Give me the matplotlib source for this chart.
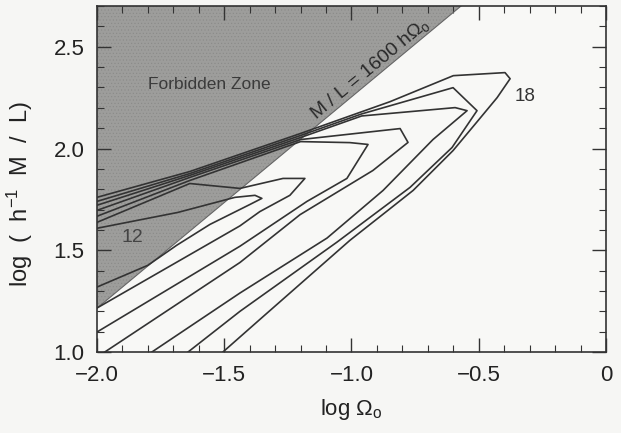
import numpy as np
import matplotlib.pyplot as plt
from matplotlib.ticker import MultipleLocator

plt.rcParams['font.family'] = ['Liberation Sans', 'DejaVu Sans']
plt.rcParams['mathtext.fontset'] = 'custom'
plt.rcParams['mathtext.rm'] = 'Liberation Sans'
plt.rcParams['mathtext.it'] = 'Liberation Sans'
plt.rcParams['hatch.linewidth'] = 0.4

# forbidden zone boundary, M/L = 1600 h Omega
edge_x = [-2.0, -0.57]
edge_y = [1.215, 2.70]

# contour levels (outermost 18 -> innermost 12), traced as polylines
c18_x = [-2.0, -1.635, -1.20, -0.849, -0.60, -0.397, -0.377, -0.428, -0.503, -0.601, -0.758, -0.857, -1.006, -1.34, -1.505]
c18_y = [1.760, 1.887, 2.074, 2.230, 2.358, 2.373, 2.343, 2.250, 2.137, 1.990, 1.794, 1.696, 1.549, 1.182, 1.0]
c17_x = [-2.0, -1.635, -1.20, -0.96, -0.601, -0.507, -0.605, -0.770, -1.057, -1.438, -1.642]
c17_y = [1.740, 1.877, 2.064, 2.170, 2.299, 2.186, 2.005, 1.809, 1.540, 1.200, 1.0]
c16_x = [-2.0, -1.635, -1.20, -0.96, -0.593, -0.546, -0.680, -0.876, -1.096, -1.438, -1.784]
c16_y = [1.721, 1.868, 2.054, 2.160, 2.201, 2.186, 2.044, 1.794, 1.560, 1.290, 1.0]
c15_x = [-2.0, -1.635, -1.20, -0.809, -0.778, -0.916, -1.202, -1.438, -1.969]
c15_y = [1.696, 1.858, 2.044, 2.098, 2.030, 1.892, 1.675, 1.440, 1.0]
c14_x = [-2.0, -1.635, -1.20, -1.006, -0.935, -1.018, -1.175, -1.438, -2.0]
c14_y = [1.667, 1.843, 2.034, 2.029, 2.020, 1.853, 1.740, 1.520, 1.098]
c13_x = [-2.0, -1.635, -1.438, -1.269, -1.183, -1.242, -1.360, -1.438, -2.0]
c13_y = [1.637, 1.828, 1.804, 1.853, 1.853, 1.770, 1.690, 1.620, 1.216]
c12_x = [-2.0, -1.682, -1.458, -1.379, -1.352, -1.399, -1.556, -1.686, -1.800, -2.0]
c12_y = [1.608, 1.686, 1.760, 1.770, 1.755, 1.725, 1.627, 1.525, 1.426, 1.319]

contours = [(c18_x, c18_y), (c17_x, c17_y), (c16_x, c16_y), (c15_x, c15_y),
            (c14_x, c14_y), (c13_x, c13_y), (c12_x, c12_y)]

x_ticks = [-2.0, -1.5, -1.0, -0.5, 0.0]
x_labels = ['\u22122.0', '\u22121.5', '\u22121.0', '\u22120.5', '0']
y_ticks = [1.0, 1.5, 2.0, 2.5]
y_labels = ['1.0', '1.5', '2.0', '2.5']

fig = plt.figure(figsize=(6.21, 4.33), dpi=100, facecolor='#f6f6f4')
ax = fig.add_axes([0.156, 0.187, 0.82, 0.799])
ax.set_facecolor('#f8f8f6')

ax.set_xlim(-2.0, 0.0)
ax.set_ylim(1.0, 2.7)

# shaded forbidden zone
ax.fill_between([edge_x[0], edge_x[1], 0.0], [edge_y[0], edge_y[1], 2.7], [2.7, 2.7, 2.7],
                facecolor='#9d9d9b', edgecolor='#8a8a88', hatch='.....', lw=0, zorder=1)
ax.plot(edge_x, edge_y, color='#666666', lw=0.8, zorder=2)

for cx, cy in contours:
    ax.plot(cx, cy, color='#333333', lw=1.2, zorder=3)

ax.text(-1.56, 2.314, 'Forbidden Zone', fontsize=12.5, color='#3a3a3a', ha='center', va='center', zorder=4)
ax.text(-0.904, 2.352, r'M / L = 1600 h$\Omega_\mathrm{o}$', fontsize=14, color='#2a2a2a',
        rotation=39.6, rotation_mode='anchor', ha='center', va='bottom', zorder=4)
ax.text(-0.36, 2.255, '18', fontsize=13.5, color='#333333', ha='left', va='center', zorder=4)
ax.text(-1.86, 1.564, '12', fontsize=14, color='#444444', ha='center', va='center', zorder=4)

ax.xaxis.set_minor_locator(MultipleLocator(0.1))
ax.yaxis.set_minor_locator(MultipleLocator(0.1))
ax.tick_params(which='both', direction='in', top=True, right=True, colors='#333333', labelcolor='#222222')
ax.tick_params(which='major', length=10, width=1.0, labelsize=16)
ax.tick_params(axis='x', which='major', pad=9)
ax.tick_params(axis='y', which='major', pad=9)
ax.tick_params(which='minor', length=5, width=0.8)
ax.set_xticks(x_ticks)
ax.set_xticklabels(x_labels)
ax.set_yticks(y_ticks)
ax.set_yticklabels(y_labels)
for sp in ax.spines.values():
    sp.set_color('#333333')
    sp.set_linewidth(1.2)

ax.set_xlabel(r'log $\Omega_\mathrm{o}$', fontsize=16, color='#222222', labelpad=8)
ax.set_ylabel(r'log  (  h$^{-1}$  M  /  L)', fontsize=17, color='#222222')
ax.yaxis.set_label_coords(-0.122, 0.457)

fig.savefig('out.png', dpi=100, facecolor=fig.get_facecolor())
